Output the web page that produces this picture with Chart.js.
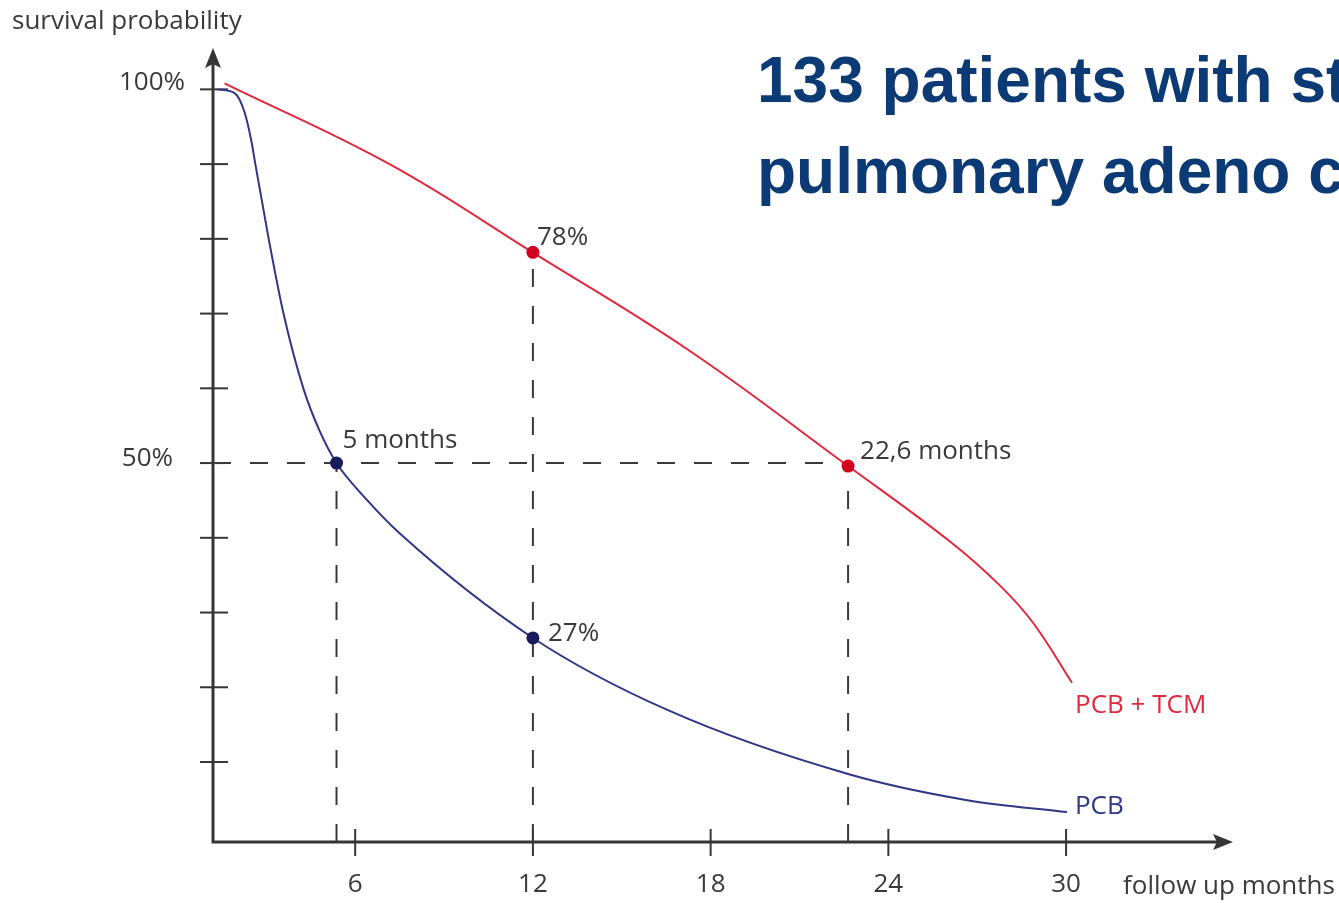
<!DOCTYPE html>
<html>
<head>
<meta charset="utf-8">
<script src="https://cdn.jsdelivr.net/npm/chart.js@4.4.1/dist/chart.umd.min.js"></script>
<style>
    html, body { margin: 0; padding: 0; background: #fff; overflow: hidden; }
    #wrap { position: relative; width: 1339px; height: 903px; }
    #title {
        position: absolute; left: 757px; top: 35px;
        font: bold 64px "Liberation Sans", Arial, sans-serif;
        color: #0b3a74; line-height: 91px; white-space: nowrap;
    }
</style>
</head>
<body>
<div id="wrap">
    <canvas id="chart" width="1339" height="903"></canvas>
    <div id="title">133 patients with stage IV<br>pulmonary adeno carcinoma</div>
</div>
<script>
// survival curves (months, % survival)
const pcbMonths   = [1.35, 1.93, 2.26, 2.5, 2.63, 3.08, 3.58, 4.25, 4.8, 5.37, 6.39, 7.5, 12.0, 16.52, 22.64, 26.66, 30.03];
const pcbSurvival = [100, 99.5, 97, 93, 90, 80, 70, 60, 54.3, 50, 45.1, 40.6, 26.6, 17.0, 8.4, 4.9, 3.3];

const tcmMonths   = [1.59, 7.16, 11.99, 17.3, 22.64, 26.08, 27.77, 28.89, 30.2];
const tcmSurvival = [100.8, 90.0, 78.2, 65.0, 49.6, 39.5, 33.6, 28.6, 20.6];

// highlighted points
const tcmMarkMonths = [12, 22.64];
const tcmMarkValues = [78.2, 49.6];
const pcbMarkMonths = [5.37, 12];
const pcbMarkValues = [50, 26.6];

// axis ticks
const xTickValues = [6, 12, 18, 24, 30];
const yTickValues = [10, 20, 30, 40, 50, 60, 70, 80, 90, 100];
const yTickLabels = { 100: "100%", 50: "50%" };

const X_MIN = 1.2, X_MAX = 35.5, Y_MIN = -0.7, Y_MAX = 105;

const RED  = "#e2283d";
const BLUE = "#2f3686";
const INK  = "#353535";
const TEXT_FONT = '26px "Open Sans", "Noto Sans", sans-serif';

function pts(xs, ys) { return xs.map((x, i) => ({ x: x, y: ys[i] })); }

// 虚线参考线
const guideH  = [{ x: X_MIN, y: 50 }, { x: tcmMarkMonths[1], y: 50 }];
const guideV1 = [{ x: pcbMarkMonths[0], y: Y_MIN }, { x: pcbMarkMonths[0], y: pcbMarkValues[0] }];
const guideV2 = [{ x: 12, y: Y_MIN }, { x: 12, y: tcmMarkValues[0] }];
const guideV3 = [{ x: tcmMarkMonths[1], y: Y_MIN }, { x: tcmMarkMonths[1], y: tcmMarkValues[1] }];

function guide(data) {
    return {
        data: data, showLine: true, borderColor: "#3a3a3a", borderWidth: 2,
        borderDash: [18, 19], pointRadius: 0, order: 5, clip: false,
    };
}

const axesPlugin = {
    id: "axes",
    beforeDatasetsDraw(chart) {
        const ctx = chart.ctx, x = chart.scales.x, y = chart.scales.y;
        const x0 = x.getPixelForValue(X_MIN), y0 = y.getPixelForValue(Y_MIN);
        const xEnd = x.getPixelForValue(X_MAX), yEnd = y.getPixelForValue(Y_MAX);
        ctx.save();
        ctx.strokeStyle = INK; ctx.fillStyle = INK;
        ctx.lineWidth = 3;
        ctx.beginPath();
        ctx.moveTo(x0, yEnd + 12); ctx.lineTo(x0, y0); ctx.lineTo(xEnd - 12, y0);
        ctx.stroke();
        // arrow heads
        ctx.beginPath();
        ctx.moveTo(x0, yEnd - 4); ctx.lineTo(x0 - 8, yEnd + 16); ctx.lineTo(x0, yEnd + 12); ctx.lineTo(x0 + 8, yEnd + 16);
        ctx.closePath(); ctx.fill();
        ctx.beginPath();
        ctx.moveTo(xEnd + 4, y0); ctx.lineTo(xEnd - 16, y0 - 8); ctx.lineTo(xEnd - 12, y0); ctx.lineTo(xEnd - 16, y0 + 8);
        ctx.closePath(); ctx.fill();

        ctx.lineWidth = 2;
        yTickValues.forEach(v => {
            const py = y.getPixelForValue(v);
            ctx.beginPath(); ctx.moveTo(x0 - 13, py); ctx.lineTo(x0 + 15, py); ctx.stroke();
        });
        xTickValues.forEach(v => {
            const px = x.getPixelForValue(v);
            ctx.beginPath(); ctx.moveTo(px, y0 - 13); ctx.lineTo(px, y0 + 14); ctx.stroke();
        });

        ctx.font = TEXT_FONT;
        ctx.fillStyle = "#3a3a3a";
        ctx.textBaseline = "middle";
        ctx.textAlign = "center";
        xTickValues.forEach(v => ctx.fillText(String(v), x.getPixelForValue(v), y0 + 43));
        ctx.textAlign = "right";
        ctx.fillText(yTickLabels[100], x0 - 28, y.getPixelForValue(100) - 7);
        ctx.fillText(yTickLabels[50], x0 - 40, y.getPixelForValue(50) - 4);
        ctx.textAlign = "left";
        ctx.fillText("survival probability", 12, 22);
        ctx.fillText("follow up months", 1123, y0 + 45);
        ctx.restore();
    },
    afterDatasetsDraw(chart) {
        const ctx = chart.ctx, x = chart.scales.x, y = chart.scales.y;
        const at = (mx, my) => [x.getPixelForValue(mx), y.getPixelForValue(my)];
        ctx.save();
        ctx.font = TEXT_FONT;
        ctx.textBaseline = "middle";
        ctx.textAlign = "left";
        ctx.fillStyle = "#3a3a3a";
        let p = at(pcbMarkMonths[0], pcbMarkValues[0]); ctx.fillText("5 months", p[0] + 6, p[1] - 22);
        p = at(pcbMarkMonths[1], pcbMarkValues[1]); ctx.fillText("27%", p[0] + 15, p[1] - 4);
        p = at(tcmMarkMonths[0], tcmMarkValues[0]); ctx.fillText("78%", p[0] + 4, p[1] - 15);
        p = at(tcmMarkMonths[1], tcmMarkValues[1]); ctx.fillText("22,6 months", p[0] + 12, p[1] - 14);
        ctx.fillStyle = RED;
        p = at(tcmMonths[tcmMonths.length - 1], tcmSurvival[tcmSurvival.length - 1]);
        ctx.fillText("PCB + TCM", p[0] + 3, p[1] + 23);
        ctx.fillStyle = BLUE;
        p = at(pcbMonths[pcbMonths.length - 1], pcbSurvival[pcbSurvival.length - 1]);
        ctx.fillText("PCB", p[0] + 8, p[1] - 6);
        ctx.restore();
    },
};

new Chart(document.getElementById("chart"), {
    type: "scatter",
    data: {
        datasets: [
            guide(guideH), guide(guideV1), guide(guideV2), guide(guideV3),
            {
                label: "PCB + TCM", data: pts(tcmMonths, tcmSurvival), showLine: true,
                borderColor: RED, borderWidth: 2, pointRadius: 0, tension: 0.4,
                order: 3, clip: false,
            },
            {
                label: "PCB", data: pts(pcbMonths, pcbSurvival), showLine: true,
                borderColor: BLUE, borderWidth: 2, pointRadius: 0, cubicInterpolationMode: "monotone",
                order: 3, clip: false,
            },
            {
                data: pts(tcmMarkMonths, tcmMarkValues), pointRadius: 6.5,
                pointBackgroundColor: "#d3001e", pointBorderWidth: 0, order: 1, clip: false,
            },
            {
                data: pts(pcbMarkMonths, pcbMarkValues), pointRadius: 6.5,
                pointBackgroundColor: "#171c5e", pointBorderWidth: 0, order: 1, clip: false,
            },
        ],
    },
    options: {
        responsive: false,
        devicePixelRatio: 1,
        animation: false,
        layout: { padding: { left: 213, right: 110, top: 52, bottom: 61 } },
        plugins: { legend: { display: false }, tooltip: { enabled: false } },
        scales: {
            x: { type: "linear", min: X_MIN, max: X_MAX, display: false },
            y: { type: "linear", min: Y_MIN, max: Y_MAX, display: false },
        },
    },
    plugins: [axesPlugin],
});
</script>
</body>
</html>
